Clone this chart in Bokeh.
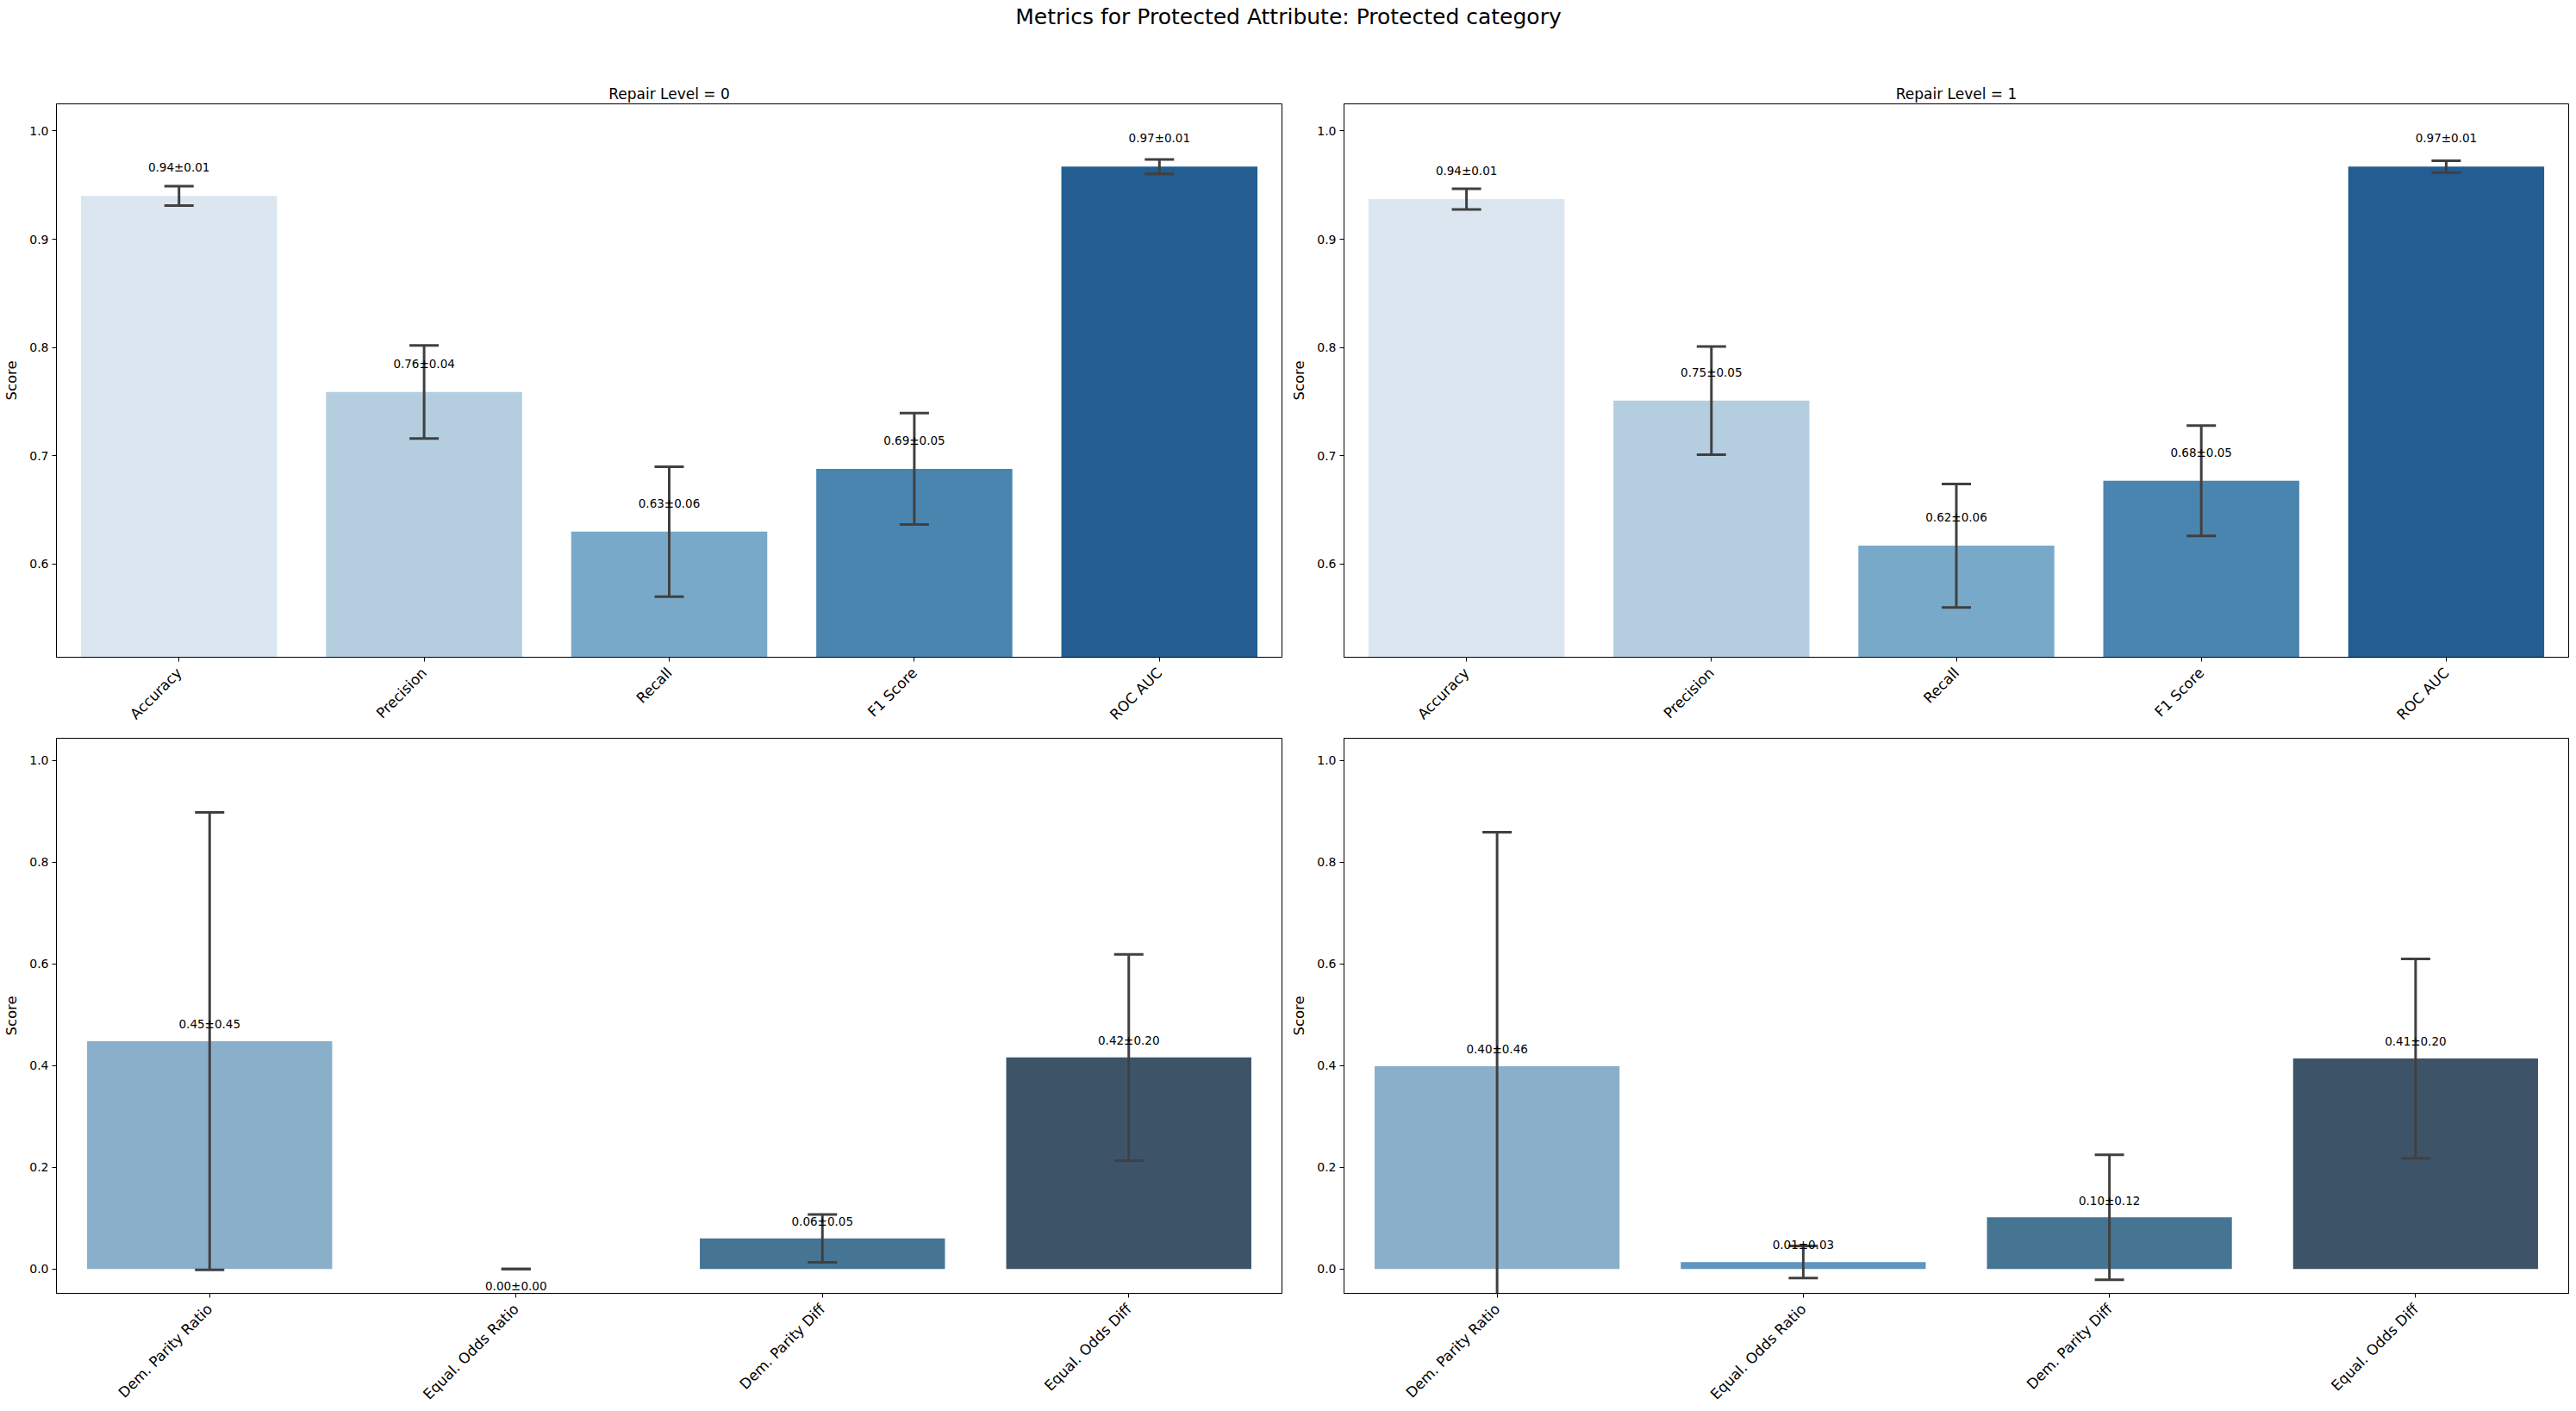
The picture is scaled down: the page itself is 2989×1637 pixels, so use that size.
import math
from bokeh.plotting import figure
from bokeh.layouts import column, row
from bokeh.models import ColumnDataSource, Range1d, FactorRange, FixedTicker, PrintfTickFormatter
from bokeh.core.properties import value
from bokeh.embed import file_html
from bokeh.resources import INLINE

# ---------------- data ----------------
suptitle = "Metrics for Protected Attribute: Protected category"
repair_levels = ["Repair Level = 0", "Repair Level = 1"]

perf_metrics = ["Accuracy", "Precision", "Recall", "F1 Score", "ROC AUC"]
fair_metrics = ["Dem. Parity Ratio", "Equal. Odds Ratio", "Dem. Parity Diff", "Equal. Odds Diff"]

perf_mean_r0 = [0.940, 0.759, 0.630, 0.688, 0.967]
perf_std_r0 = [0.009, 0.043, 0.060, 0.0515, 0.0067]
perf_mean_r1 = [0.937, 0.751, 0.617, 0.677, 0.967]
perf_std_r1 = [0.0095, 0.050, 0.057, 0.051, 0.0055]

fair_mean_r0 = [0.448, 0.000, 0.060, 0.416]
fair_std_r0 = [0.450, 0.000, 0.047, 0.203]
fair_mean_r1 = [0.399, 0.0136, 0.1015, 0.414]
fair_std_r1 = [0.460, 0.0317, 0.123, 0.196]

perf_ticks = [0.6, 0.7, 0.8, 0.9, 1.0]
fair_ticks = [0.0, 0.2, 0.4, 0.6, 0.8, 1.0]

# ---------------- styles ----------------
perf_colors = ["#dbe6f1", "#b4cee0", "#79a9c8", "#4a85b0", "#235d91"]
fair_colors = ["#8aafca", "#5f95be", "#467594", "#3d5468"]
FONT = "DejaVu Sans"
ERR_COLOR = "#404040"


def make_panel(cats, means, stds, colors, y0, y1, ticks, width, height,
               mb_left, mb_right, mb_top, mb_bottom, title=None):
    p = figure(x_range=FactorRange(*cats, range_padding=0), y_range=Range1d(y0, y1),
               width=width, height=height, output_backend="svg", toolbar_location=None,
               title=title, min_border_left=mb_left, min_border_right=mb_right,
               min_border_top=mb_top, min_border_bottom=mb_bottom)
    lower = [m - s for m, s in zip(means, stds)]
    upper = [m + s for m, s in zip(means, stds)]
    labels = [f"{m:.2f}\u00b1{s:.2f}" for m, s in zip(means, stds)]
    ly = [m + 0.02 if m > 0.005 else m - 0.02 for m in means]
    lb = ["bottom" if m > 0.005 else "top" for m in means]
    src = ColumnDataSource(dict(x=cats, top=means, lower=lower, upper=upper,
                                color=colors, label=labels, ly=ly, lb=lb))
    p.vbar(x="x", top="top", bottom=0, width=0.8, fill_color="color", line_color=None, source=src)
    p.segment(x0="x", y0="lower", x1="x", y1="upper", line_color=ERR_COLOR, line_width=3, source=src)
    p.scatter(x="x", y="upper", marker="dash", size=34, line_color=ERR_COLOR, line_width=3, source=src)
    p.scatter(x="x", y="lower", marker="dash", size=34, line_color=ERR_COLOR, line_width=3, source=src)
    p.text(x="x", y="ly", text="label", text_align="center", text_baseline="lb",
           text_font_size=value("13.5px"), text_font=value(FONT), text_color="black", source=src)

    p.xgrid.visible = False
    p.ygrid.visible = False
    p.outline_line_color = "black"
    p.outline_line_width = 1
    p.background_fill_color = "white"
    p.border_fill_color = "white"

    p.yaxis.ticker = FixedTicker(ticks=ticks)
    p.yaxis.formatter = PrintfTickFormatter(format="%.1f")
    p.yaxis.axis_label = "Score"
    p.yaxis.axis_label_text_font = FONT
    p.yaxis.axis_label_text_font_size = "16.5px"
    p.yaxis.axis_label_text_font_style = "normal"
    p.yaxis.axis_label_text_color = "black"
    p.yaxis.axis_label_standoff = 8
    p.yaxis.major_label_standoff = 4

    for ax in (p.xaxis[0], p.yaxis[0]):
        ax.major_label_text_font = FONT
        ax.major_label_text_color = "black"
        ax.axis_line_color = "black"
        ax.major_tick_line_color = "black"
        ax.major_tick_out = 5
        ax.major_tick_in = 0
        ax.minor_tick_line_color = None
    p.yaxis.major_label_text_font_size = "14px"
    p.xaxis.major_label_text_font_size = "16.7px"
    p.xaxis.major_label_orientation = math.pi / 4
    p.xaxis.major_label_standoff = 10

    if title is not None:
        p.title.text_font = FONT
        p.title.text_font_size = "17px"
        p.title.text_font_style = "normal"
        p.title.align = "center"
        p.title.text_color = "black"
        p.title.standoff = 4
    return p


LW, RW = 1495, 1494
TOP_H, BOT_H = 800, 787

p1 = make_panel(perf_metrics, perf_mean_r0, perf_std_r0, perf_colors, 0.514, 1.025, perf_ticks,
                LW, TOP_H, 65, 8, 70, 88, title=repair_levels[0])
p2 = make_panel(perf_metrics, perf_mean_r1, perf_std_r1, perf_colors, 0.514, 1.025, perf_ticks,
                RW, TOP_H, 63, 9, 70, 88, title=repair_levels[1])
p3 = make_panel(fair_metrics, fair_mean_r0, fair_std_r0, fair_colors, -0.048, 1.044, fair_ticks,
                LW, BOT_H, 65, 8, 6, 137)
p4 = make_panel(fair_metrics, fair_mean_r1, fair_std_r1, fair_colors, -0.048, 1.044, fair_ticks,
                RW, BOT_H, 63, 9, 6, 137)

pt = figure(width=LW + RW, height=50, output_backend="svg", toolbar_location=None,
            title=suptitle, min_border=0, min_border_top=33, outline_line_color=None)
pt.xaxis.visible = False
pt.yaxis.visible = False
pt.xgrid.visible = False
pt.ygrid.visible = False
pt.title.align = "center"
pt.title.text_font = FONT
pt.title.text_font_size = "25px"
pt.title.text_font_style = "normal"
pt.title.text_color = "black"
pt.title.standoff = 0

layout = column(pt, row(p1, p2), row(p3, p4))

html = file_html(layout, INLINE, "Metrics")
with open("out.html", "w") as f:
    f.write(html)
